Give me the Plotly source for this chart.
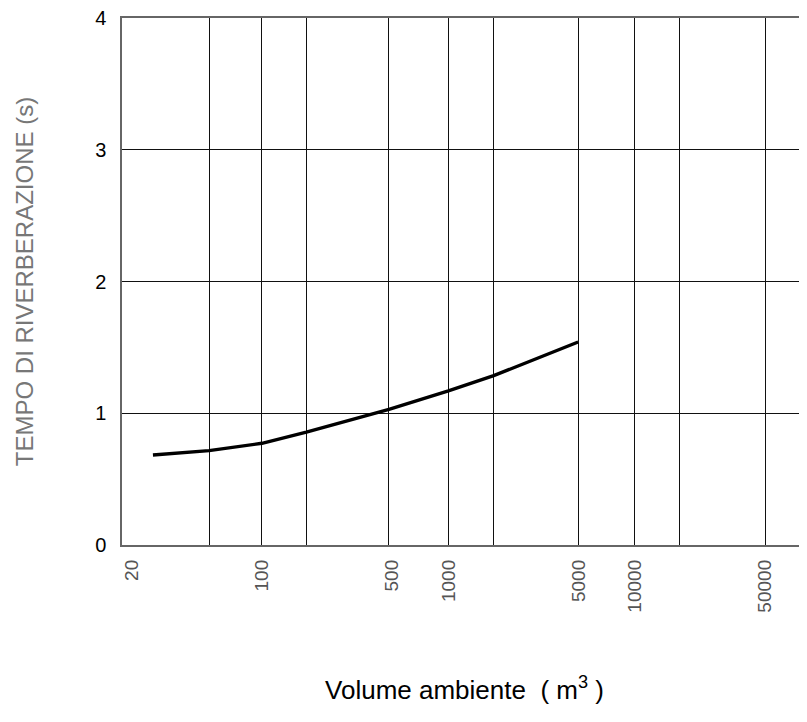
import plotly.graph_objects as go

# Curve
volume = [26, 52, 100, 173, 480, 1000, 1750, 4970]
tempo = [0.683, 0.716, 0.772, 0.856, 1.03, 1.169, 1.285, 1.541]

# Axis grid positions (as drawn) and labels
x_grid = [52, 100, 173, 480, 1000, 1750, 4970, 10000, 17400, 50000]
x_labels = [20, 100, 500, 1000, 5000, 10000, 50000]
y_ticks = [0, 1, 2, 3, 4]

FONT = "Liberation Sans, Arial, sans-serif"
XRANGE = [1.249, 4.924]

fig = go.Figure()
fig.add_trace(go.Scatter(x=volume, y=tempo, mode="lines",
                         line=dict(color="black", width=3.4), hoverinfo="skip"))

# grid lines (unlabelled) on the main axis
fig.update_xaxes(type="log", range=XRANGE, tickvals=x_grid, showticklabels=False,
                 showgrid=True, gridcolor="#111", gridwidth=1,
                 showline=True, linecolor="#666", linewidth=1.5, mirror=True,
                 ticks="", zeroline=False, fixedrange=True)

# labelled axis (same scale, overlay)
fig.update_layout(xaxis2=dict(type="log", range=XRANGE, overlaying="x",
                              side="bottom", anchor="y", tickvals=x_labels,
                              ticktext=[str(v) for v in x_labels], tickangle=-90,
                              showgrid=False, showline=False, ticks="",
                              ticklabelstandoff=10, ticklabeloverflow="allow",
                              tickfont=dict(family=FONT, size=19, color="#555"),
                              title=dict(text="Volume ambiente &nbsp;( m<sup>3</sup> )",
                                         font=dict(family=FONT, size=26, color="black"),
                                         standoff=69)))
fig.add_trace(go.Scatter(x=[x_labels[0]], y=[None], xaxis="x2", showlegend=False,
                         hoverinfo="skip"))

fig.update_yaxes(range=[0, 4], tickvals=y_ticks, showgrid=True, gridcolor="#111",
                 gridwidth=1, showline=True, linecolor="#666", linewidth=1.5,
                 mirror=True, ticks="", ticklabelstandoff=10,
                 ticklabeloverflow="allow", zeroline=False,
                 tickfont=dict(family=FONT, size=20, color="black"),
                 title=dict(text="TEMPO DI RIVERBERAZIONE (s)",
                            font=dict(family=FONT, size=24, color="#777"), standoff=55))

fig.update_layout(width=799, height=700, showlegend=False,
                  plot_bgcolor="white", paper_bgcolor="white",
                  margin=dict(l=114, r=0, t=10, b=163, autoexpand=False))

fig.write_html("out.html")
